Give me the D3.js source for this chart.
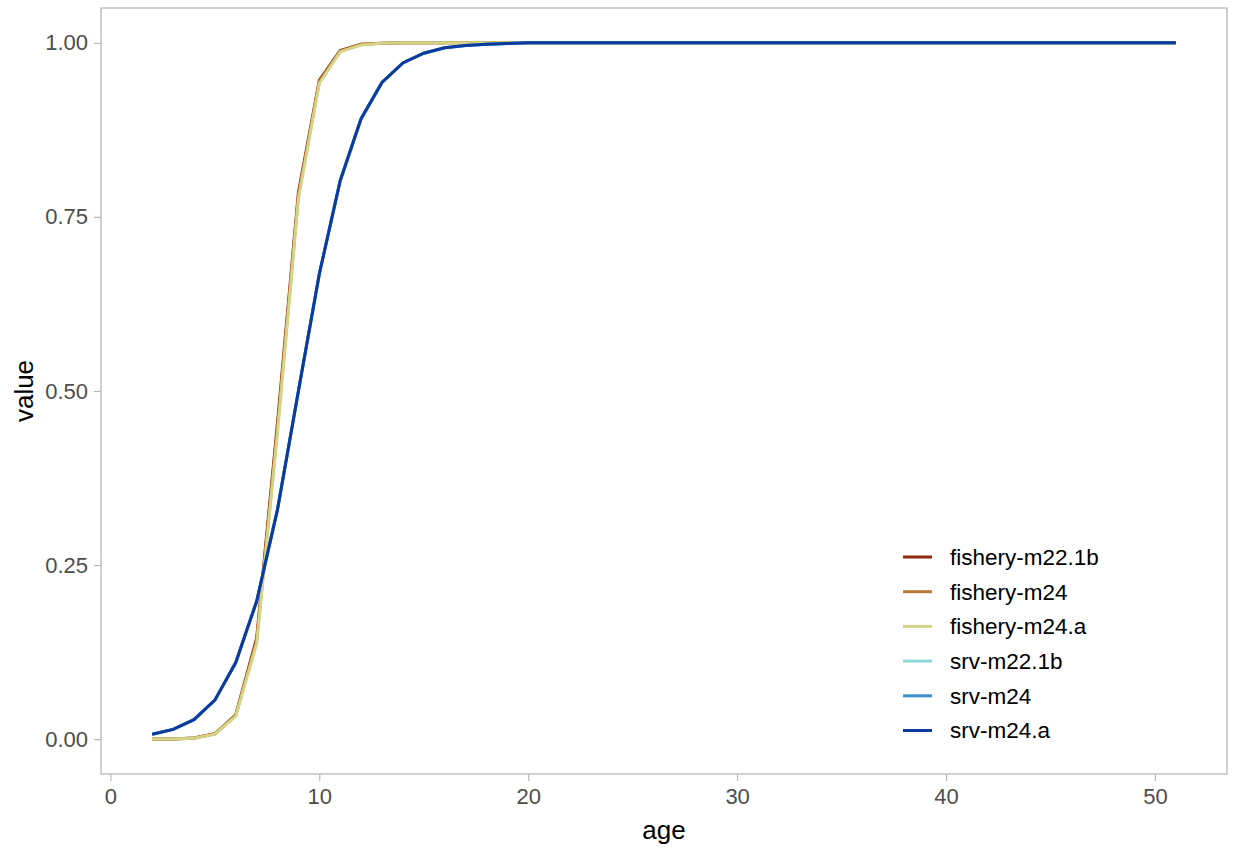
<!DOCTYPE html>
<html>
<head>
<meta charset="utf-8">
<script src="https://cdn.jsdelivr.net/npm/d3@7"></script>
<style>
  body { margin: 0; background: #fff; }
  text { font-family: "Liberation Sans", Arial, sans-serif; }
</style>
</head>
<body>
<script>
// ages 2..51
var ages = d3.range(2, 52);

// selectivity (ages 2..20, then flat at 1)
var fisheryM22 = [0.0001, 0.0004, 0.0017, 0.0078, 0.035, 0.145, 0.455, 0.785, 0.946, 0.989, 0.998, 0.9995, 1, 1, 1, 1, 1, 1, 1];
var fisheryM24 = [0.0001, 0.0004, 0.0016, 0.0075, 0.034, 0.141, 0.448, 0.781, 0.944, 0.988, 0.998, 0.9995, 1, 1, 1, 1, 1, 1, 1];
var fisheryM24a = [0.0001, 0.0003, 0.0015, 0.0072, 0.033, 0.137, 0.44, 0.776, 0.942, 0.987, 0.997, 0.9994, 1, 1, 1, 1, 1, 1, 1];
var srvM22 = [0.007, 0.014, 0.028, 0.056, 0.11, 0.198, 0.33, 0.5, 0.668, 0.802, 0.891, 0.943, 0.971, 0.985, 0.993, 0.996, 0.998, 0.999, 1];
var srvM24 = [0.007, 0.014, 0.028, 0.056, 0.11, 0.198, 0.33, 0.5, 0.668, 0.802, 0.891, 0.943, 0.971, 0.985, 0.993, 0.996, 0.998, 0.999, 1];
var srvM24a = [0.007, 0.014, 0.028, 0.056, 0.11, 0.198, 0.33, 0.5, 0.668, 0.802, 0.891, 0.943, 0.971, 0.985, 0.993, 0.996, 0.998, 0.999, 1];

var seriesNames = ["fishery-m22.1b", "fishery-m24", "fishery-m24.a", "srv-m22.1b", "srv-m24", "srv-m24.a"];
var seriesColors = ["#8B2A0C", "#B87A33", "#D4D486", "#8ED9D5", "#3A8FC9", "#0D3A9E"];
var seriesValues = [fisheryM22, fisheryM24, fisheryM24a, srvM22, srvM24, srvM24a];

var xTicks = [0, 10, 20, 30, 40, 50];
var yTicks = [0, 0.25, 0.5, 0.75, 1];

var width = 1233, height = 850;
var margin = {top: 8, right: 6, bottom: 76, left: 101};
var pw = width - margin.left - margin.right,
    ph = height - margin.top - margin.bottom;

var svg = d3.select("body").append("svg")
    .attr("width", width)
    .attr("height", height);

var x = d3.scaleLinear().domain([-0.45, 53.45]).range([0, pw]);
var y = d3.scaleLinear().domain([-0.05, 1.05]).range([ph, 0]);

var g = svg.append("g")
    .attr("transform", "translate(" + margin.left + "," + margin.top + ")");

function full(vals) {
    return ages.map(function (a, i) {
        return {age: a, value: i < vals.length ? vals[i] : 1};
    });
}

var line = d3.line()
    .x(function (d) { return x(d.age); })
    .y(function (d) { return y(d.value); });

g.selectAll(".series")
    .data(seriesValues)
    .enter().append("path")
    .attr("class", "series")
    .attr("d", function (d) { return line(full(d)); })
    .attr("fill", "none")
    .attr("stroke", function (d, i) { return seriesColors[i]; })
    .attr("stroke-width", 3);

// panel border
g.append("rect")
    .attr("x", 0).attr("y", 0)
    .attr("width", pw).attr("height", ph)
    .attr("fill", "none")
    .attr("stroke", "#b3b3b3")
    .attr("stroke-width", 1.2);

var xAxis = g.append("g")
    .attr("transform", "translate(0," + ph + ")")
    .call(d3.axisBottom(x).tickValues(xTicks).tickSize(7).tickPadding(7));
var yAxis = g.append("g")
    .call(d3.axisLeft(y).tickValues(yTicks).tickSize(7).tickPadding(6).tickFormat(d3.format(".2f")));

[xAxis, yAxis].forEach(function (ax) {
    ax.select(".domain").remove();
    ax.selectAll("line").attr("stroke", "#b3b3b3").attr("stroke-width", 1.1);
    ax.selectAll("text").attr("fill", "#4d4d4d").style("font-size", "22px");
});

svg.append("text")
    .attr("x", margin.left + pw / 2)
    .attr("y", 839)
    .attr("text-anchor", "middle")
    .style("font-size", "26px")
    .text("age");

svg.append("text")
    .attr("transform", "translate(33," + (margin.top + ph / 2) + ") rotate(-90)")
    .attr("text-anchor", "middle")
    .style("font-size", "26px")
    .text("value");

// legend
var legend = svg.append("g")
    .attr("transform", "translate(903,557)");
var items = legend.selectAll(".item")
    .data(seriesNames)
    .enter().append("g")
    .attr("transform", function (d, i) { return "translate(0," + (i * 34.7) + ")"; });
items.append("line")
    .attr("x1", 0).attr("x2", 29)
    .attr("stroke", function (d, i) { return seriesColors[i]; })
    .attr("stroke-width", 3);
items.append("text")
    .attr("x", 47)
    .attr("dy", "0.35em")
    .style("font-size", "22.5px")
    .text(function (d) { return d; });
</script>
</body>
</html>
